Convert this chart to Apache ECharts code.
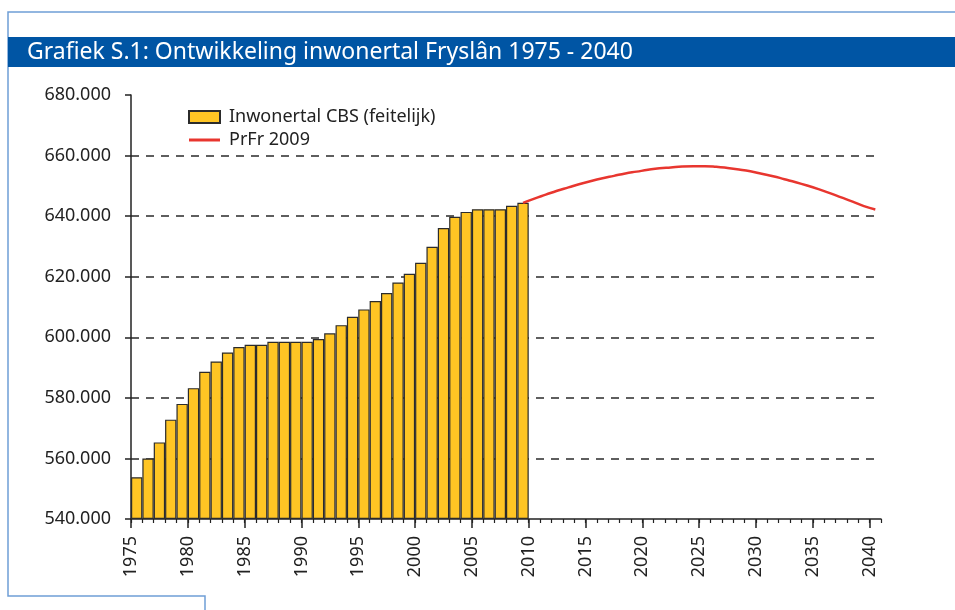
<!DOCTYPE html>
<html>
<head>
    <meta charset="utf-8">
    <title>Grafiek S.1</title>
    <script src="https://cdn.jsdelivr.net/npm/echarts@6/dist/echarts.min.js"></script>
    <style>
        html, body { margin: 0; padding: 0; background: #fff; }
        #main { width: 955px; height: 610px; }
    </style>
</head>
<body>
<div id="main"></div>
<script>
    // inwonertal CBS (feitelijk), 1975 - 2009
    var jaren = [1975, 1976, 1977, 1978, 1979, 1980, 1981, 1982, 1983, 1984,
        1985, 1986, 1987, 1988, 1989, 1990, 1991, 1992, 1993, 1994,
        1995, 1996, 1997, 1998, 1999, 2000, 2001, 2002, 2003, 2004,
        2005, 2006, 2007, 2008, 2009];
    var inwonertal = [553800, 560000, 565300, 572800, 578000, 583200, 588600, 592000, 595000, 596800,
        597500, 597500, 598500, 598500, 598500, 598500, 599400, 601300, 604000, 606800,
        609200, 612000, 614600, 618100, 621000, 624600, 629900, 636100, 639800, 641400,
        642300, 642300, 642300, 643400, 644400];

    // prognose PrFr 2009
    var prognoseJaren = [2009, 2010, 2011, 2012, 2013, 2014, 2015, 2016, 2017, 2018,
        2019, 2020, 2021, 2022, 2023, 2024, 2025, 2026, 2027, 2028,
        2029, 2030, 2031, 2032, 2033, 2034, 2035, 2036, 2037, 2038,
        2039, 2040];
    var prognose = [644400, 645800, 647100, 648400, 649500, 650600, 651600, 652500, 653300, 654100,
        654700, 655300, 655800, 656100, 656400, 656500, 656500, 656300, 655900, 655400,
        654800, 654000, 653200, 652200, 651200, 650100, 648900, 647600, 646200, 644800,
        643300, 642200];

    var xLabels = ['1975', '1980', '1985', '1990', '1995', '2000', '2005', '2010',
        '2015', '2020', '2025', '2030', '2035', '2040'];
    var yLabels = ['540.000', '560.000', '580.000', '600.000', '620.000', '640.000', '660.000', '680.000'];

    var GRID_LEFT = 131, GRID_TOP = 95, GRID_H = 424, GRID_W = 750;
    var unit = GRID_W / 66;
    var font = '"Noto Sans", "Open Sans", sans-serif';

    var barData = [];
    for (var i = 0; i < jaren.length; i++) {
        barData.push([jaren[i] + 0.5, inwonertal[i]]);
    }
    var lineData = [];
    for (var j = 0; j < prognoseJaren.length; j++) {
        lineData.push([prognoseJaren[j] + 0.5, prognose[j]]);
    }

    var myChart = echarts.init(document.getElementById('main'));
    myChart.setOption({
        animation: false,
        textStyle: {fontFamily: font},
        graphic: [
            {
                type: 'polyline',
                shape: {points: [[955, 12], [8, 12], [8, 596], [205, 596], [205, 610]]},
                style: {stroke: '#6F9ED6', lineWidth: 1.5, fill: null}
            },
            {
                type: 'rect',
                shape: {x: 8, y: 37, width: 947, height: 30},
                style: {fill: '#0055A4'}
            },
            {
                type: 'text',
                x: 27, y: 52,
                style: {
                    text: 'Grafiek S.1: Ontwikkeling inwonertal Fryslân 1975 - 2040',
                    fill: '#fff',
                    font: '23px ' + font,
                    verticalAlign: 'middle'
                }
            }
        ],
        legend: {
            orient: 'vertical',
            left: 188,
            top: 108,
            padding: 0,
            itemWidth: 31,
            itemHeight: 12,
            itemGap: 5,
            textStyle: {fontSize: 18, color: '#222', padding: [0, 0, 0, 4]},
            data: [
                {name: 'Inwonertal CBS (feitelijk)', icon: 'rect'},
                {name: 'PrFr 2009', icon: 'path://M0,0H31V3H0Z'}
            ]
        },
        grid: [
            {left: GRID_LEFT, top: GRID_TOP, width: GRID_W, height: GRID_H},
            {left: GRID_LEFT, top: GRID_TOP, width: unit * 65, height: GRID_H}
        ],
        xAxis: [
            {
                type: 'value',
                gridIndex: 0,
                min: 1975,
                max: 2041,
                interval: 1,
                axisLine: {lineStyle: {color: '#222', width: 1.5}},
                axisTick: {length: 4, lineStyle: {color: '#222', width: 1.2}},
                axisLabel: {show: false},
                splitLine: {show: false}
            },
            {
                type: 'value',
                gridIndex: 1,
                min: 1975,
                max: 2040,
                interval: 5,
                axisLine: {show: false},
                axisTick: {length: 9, lineStyle: {color: '#222', width: 1.5}},
                axisLabel: {
                    rotate: 90,
                    margin: 17,
                    fontSize: 18,
                    color: '#222',
                    formatter: function (v) {
                        return xLabels[Math.round((v - 1975) / 5)] || '';
                    }
                },
                splitLine: {show: false}
            }
        ],
        yAxis: [
            {
                type: 'value',
                gridIndex: 0,
                min: 540000,
                max: 680000,
                interval: 20000,
                startValue: 540000,
                axisLine: {show: true, lineStyle: {color: '#222', width: 1.5}},
                axisTick: {show: true, length: 6, lineStyle: {color: '#222', width: 1.5}},
                axisLabel: {
                    margin: 20,
                    fontSize: 18,
                    color: '#222',
                    formatter: function (v) {
                        return yLabels[Math.round((v - 540000) / 20000)];
                    }
                },
                splitLine: {
                    show: true,
                    showMinLine: false,
                    showMaxLine: false,
                    lineStyle: {color: '#2a2a2a', width: 1.5, type: [8, 7]}
                }
            },
            {
                type: 'value',
                gridIndex: 1,
                min: 540000,
                max: 680000,
                show: false
            }
        ],
        series: [
            {
                name: 'Inwonertal CBS (feitelijk)',
                type: 'bar',
                xAxisIndex: 0,
                yAxisIndex: 0,
                barWidth: unit,
                itemStyle: {color: '#FFC524', borderColor: '#2b2b2b', borderWidth: 1.2},
                data: barData
            },
            {
                name: 'PrFr 2009',
                type: 'line',
                xAxisIndex: 0,
                yAxisIndex: 0,
                smooth: true,
                symbol: 'none',
                lineStyle: {color: '#E8362F', width: 2.5},
                itemStyle: {color: '#E8362F'},
                data: lineData
            }
        ]
    });
</script>
</body>
</html>
